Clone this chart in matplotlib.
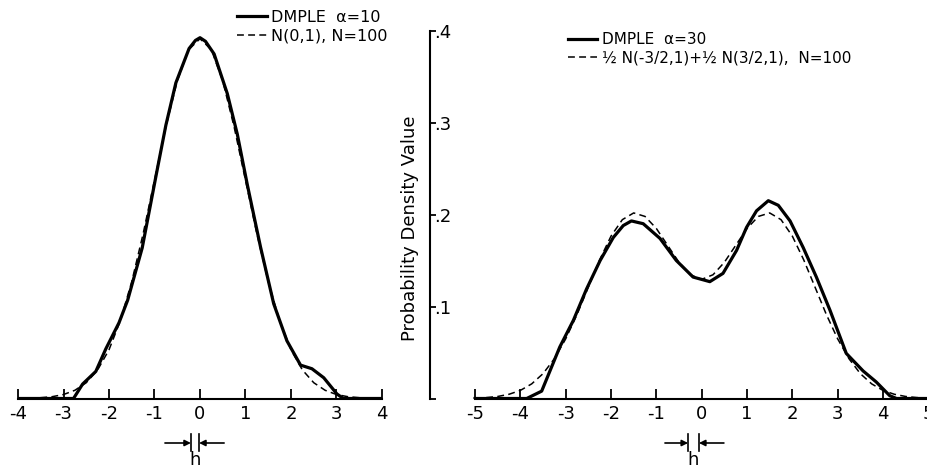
import numpy as np
import matplotlib.pyplot as plt
from matplotlib.transforms import blended_transform_factory

plt.rcParams['font.family'] = ['DejaVu Sans']
plt.rcParams['axes.unicode_minus'] = False

# left panel: DMPLE estimate (alpha=10) and the N(0,1) density
left_dmple_x = [-4.0, -3.5, -3.0, -2.78, -2.58, -2.29, -2.07, -1.78, -1.59, -1.27,
                -0.97, -0.75, -0.53, -0.24, -0.1, 0.0, 0.12, 0.31, 0.60, 0.82, 1.04,
                1.33, 1.62, 1.91, 2.21, 2.46, 2.72, 3.01, 3.15, 3.5, 4.0]
left_dmple_y = [0.0, 0.0, 0.0, 0.0, 0.016, 0.030, 0.055, 0.084, 0.109, 0.167,
                0.246, 0.303, 0.350, 0.388, 0.397, 0.400, 0.396, 0.382, 0.338, 0.293, 0.237,
                0.168, 0.105, 0.064, 0.037, 0.033, 0.023, 0.005, 0.0, 0.0, 0.0]
left_true_x = np.linspace(-4, 4, 33)
left_true_y = [0.0001, 0.0004, 0.0009, 0.0020, 0.0044, 0.0091, 0.0175, 0.0317, 0.0540,
               0.0863, 0.1295, 0.1826, 0.2420, 0.3011, 0.3521, 0.3867, 0.3989,
               0.3867, 0.3521, 0.3011, 0.2420, 0.1826, 0.1295, 0.0863, 0.0540,
               0.0317, 0.0175, 0.0091, 0.0044, 0.0020, 0.0009, 0.0004, 0.0001]

# right panel: DMPLE estimate (alpha=30) and the normal mixture density
right_dmple_x = [-5.0, -4.5, -3.86, -3.53, -3.13, -2.83, -2.54, -2.24, -1.95, -1.73,
                 -1.55, -1.29, -0.92, -0.56, -0.19, 0.18, 0.47, 0.77, 0.99, 1.21,
                 1.47, 1.69, 1.95, 2.24, 2.53, 2.83, 3.19, 3.56, 3.85, 4.15,
                 4.3, 4.7, 5.0]
right_dmple_y = [0.0, 0.0, 0.0, 0.008, 0.056, 0.085, 0.119, 0.150, 0.175, 0.188,
                 0.193, 0.190, 0.174, 0.150, 0.132, 0.127, 0.136, 0.161, 0.186, 0.204,
                 0.215, 0.210, 0.193, 0.164, 0.132, 0.096, 0.049, 0.030, 0.018, 0.003,
                 0.0, 0.0, 0.0]
right_true_x = np.linspace(-5, 5, 41)
right_true_y = [0.0004, 0.0010, 0.0022, 0.0046, 0.0088, 0.0159, 0.0270, 0.0432, 0.0648,
                0.0913, 0.1211, 0.1508, 0.1765, 0.1944, 0.2017, 0.1979, 0.1848, 0.1664,
                0.1480, 0.1345, 0.1295, 0.1345, 0.1480, 0.1664, 0.1848, 0.1979, 0.2017,
                0.1944, 0.1765, 0.1508, 0.1211, 0.0913, 0.0648, 0.0432, 0.0270, 0.0159,
                0.0088, 0.0046, 0.0022, 0.0010, 0.0004]

left_ticks = [-4, -3, -2, -1, 0, 1, 2, 3, 4]
left_ticklabels = ['-4', '-3', '-2', '-1', '0', '1', '2', '3', '4']
right_ticks = [-5, -4, -3, -2, -1, 0, 1, 2, 3, 4, 5]
right_ticklabels = ['-5', '-4', '-3', '-2', '-1', '0', '1', '2', '3', '4', '5']
y_ticks = [0, 0.1, 0.2, 0.3, 0.4]
y_ticklabels = ['', '.1', '.2', '.3', '.4']

W, H = 928, 469
fig = plt.figure(figsize=(W / 100, H / 100), dpi=100)


def add_axes_px(left, right, bottom, top):
    return fig.add_axes([left / W, 1 - bottom / H, (right - left) / W, (bottom - top) / H])


y0 = 398.5
ytop = 0.41
ax1 = add_axes_px(18, 382, y0, y0 - ytop * 902)
ax2 = add_axes_px(429.7, 937.4, y0, y0 - ytop * 920)

solid_kw = dict(color='black', lw=2.3, solid_joinstyle='round', zorder=3)
dash_kw = dict(color='black', lw=1.1, ls=(0, (4.5, 2.8)), zorder=2)

# left
l1, = ax1.plot(left_dmple_x, left_dmple_y, **solid_kw)
l2, = ax1.plot(left_true_x, left_true_y, **dash_kw)
ax1.set_xlim(-4, 4)
ax1.set_ylim(0, ytop)
for s in ['top', 'left', 'right']:
    ax1.spines[s].set_visible(False)
ax1.spines['bottom'].set_linewidth(1.5)
ax1.spines['bottom'].set_bounds(-4, 4)
ax1.set_xticks(left_ticks)
ax1.set_xticklabels(left_ticklabels)
ax1.set_yticks([])
ax1.tick_params(axis='x', direction='in', length=7, width=1.3, labelsize=13, pad=5)
ax1.legend([l1, l2], ['DMPLE  α=10', 'N(0,1), N=100'], loc='upper left',
           bbox_to_anchor=(237 / W, 1 - 10 / H), bbox_transform=fig.transFigure,
           frameon=False, fontsize=11.5, borderpad=0, borderaxespad=0,
           handlelength=1.9, handletextpad=0.25, labelspacing=0.25)

# right
r1, = ax2.plot(right_dmple_x, right_dmple_y, **solid_kw)
r2, = ax2.plot(right_true_x, right_true_y, **dash_kw)
ax2.set_xlim(-6, 5.2)
ax2.set_ylim(0, ytop)
for s in ['top', 'right']:
    ax2.spines[s].set_visible(False)
ax2.spines['bottom'].set_linewidth(1.5)
ax2.spines['bottom'].set_bounds(-5, 5)
ax2.spines['left'].set_linewidth(1.5)
ax2.spines['left'].set_bounds(0, 0.4)
ax2.set_xticks(right_ticks)
ax2.set_xticklabels(right_ticklabels)
ax2.set_yticks(y_ticks)
ax2.set_yticklabels(y_ticklabels, ha='left')
ax2.tick_params(axis='x', direction='in', length=7, width=1.3, labelsize=13, pad=5)
ax2.tick_params(axis='y', direction='in', length=4, width=1.3, labelsize=13, pad=-3)
ax2.legend([r1, r2], ['DMPLE  α=30', '½ N(-3/2,1)+½ N(3/2,1),  N=100'], loc='upper left',
           bbox_to_anchor=(568 / W, 1 - 32 / H), bbox_transform=fig.transFigure,
           frameon=False, fontsize=11, borderpad=0, borderaxespad=0,
           handlelength=1.9, handletextpad=0.3, labelspacing=0.2)

fig.text(410 / W, 1 - 228 / H, 'Probability Density Value', rotation=90,
         ha='center', va='center', fontsize=13)


# bandwidth marker under each panel
def h_marker(ax, a, b, left_start, right_start, center):
    tr = blended_transform_factory(ax.transData, fig.transFigure)
    ym = 1 - 443 / H
    for xb in (a, b):
        ax.plot([xb, xb], [1 - 434 / H, 1 - 451 / H], color='black', lw=1.2,
                transform=tr, clip_on=False)
    arrow = dict(arrowstyle='-|>', color='black', lw=1.2, mutation_scale=9,
                 shrinkA=0, shrinkB=0)
    ax.annotate('', xy=(a, ym), xytext=(left_start, ym), xycoords=tr, textcoords=tr,
                arrowprops=arrow, annotation_clip=False)
    ax.annotate('', xy=(b, ym), xytext=(right_start, ym), xycoords=tr, textcoords=tr,
                arrowprops=arrow, annotation_clip=False)
    ax.text(center, 1 - 460 / H, 'h', transform=tr, ha='center', va='center', fontsize=13)


h_marker(ax1, -0.20, -0.02, -0.77, 0.53, -0.11)
h_marker(ax2, -0.30, -0.06, -0.81, 0.49, -0.18)

fig.savefig('out.png', dpi=100)
